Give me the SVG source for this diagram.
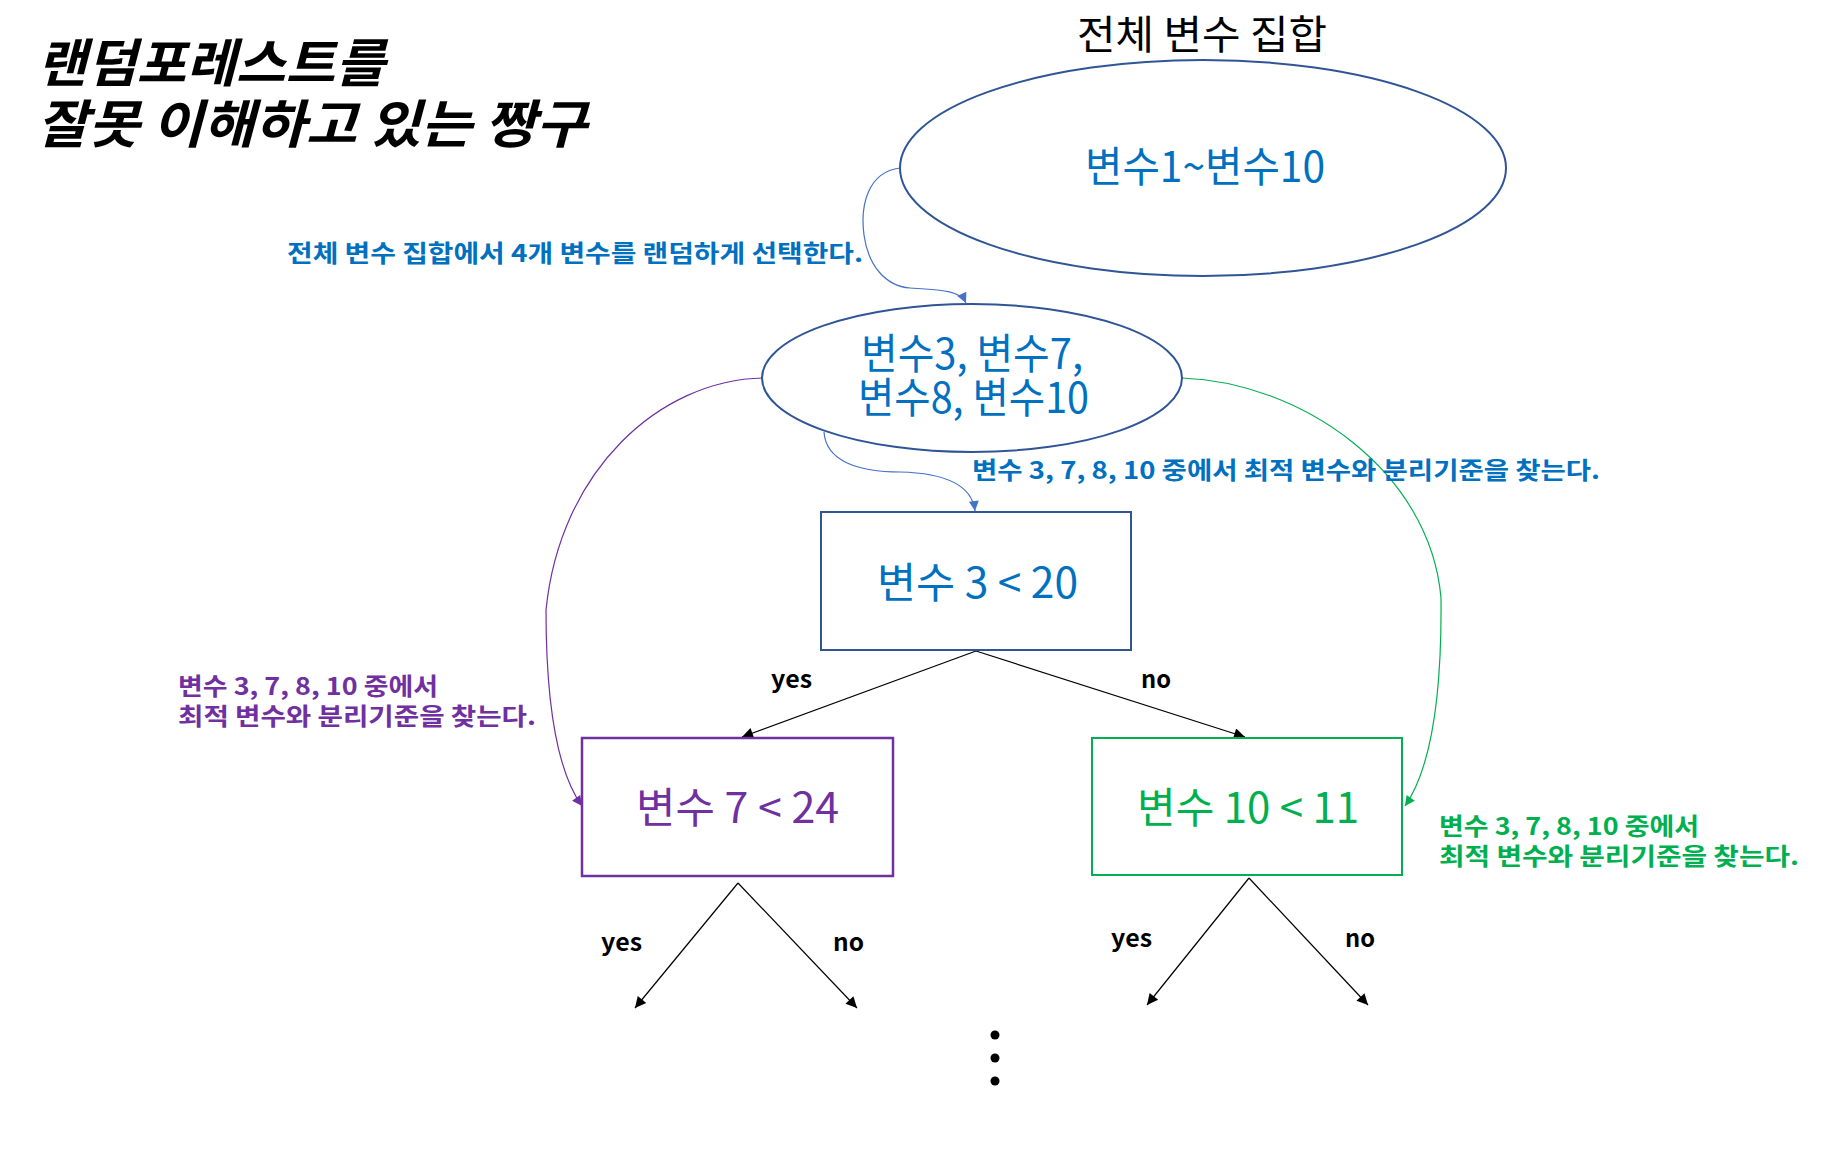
<svg xmlns="http://www.w3.org/2000/svg" width="1840" height="1153" viewBox="0 0 1840 1153">
<style>
text{font-family:"Noto Sans CJK KR","Noto Sans",sans-serif}
.title{font-size:52px;font-weight:bold;font-style:italic;fill:#000}
.head{font-size:40px;fill:#000}
.big{font-size:42px}
.note{font-size:24px;font-weight:bold}
.lbl{font-size:24px;font-weight:bold;fill:#000}
.blue{fill:#0070C0}
.purple{fill:#7030A0}
.green{fill:#00B050}
.conn{fill:none;stroke-width:1.2}
</style>
<defs>
<marker id="ak" viewBox="0 0 10 10" refX="10" refY="5" markerWidth="15" markerHeight="11" markerUnits="userSpaceOnUse" orient="auto"><path d="M0,0 L10,5 L0,10 z" fill="#000"/></marker>
<marker id="ab" viewBox="0 0 10 10" refX="10" refY="5" markerWidth="13" markerHeight="10" markerUnits="userSpaceOnUse" orient="auto"><path d="M0,0 L10,5 L0,10 z" fill="#4472C4"/></marker>
<marker id="ap" viewBox="0 0 10 10" refX="10" refY="5" markerWidth="13" markerHeight="10" markerUnits="userSpaceOnUse" orient="auto"><path d="M0,0 L10,5 L0,10 z" fill="#7030A0"/></marker>
<marker id="ag" viewBox="0 0 10 10" refX="10" refY="5" markerWidth="13" markerHeight="10" markerUnits="userSpaceOnUse" orient="auto"><path d="M0,0 L10,5 L0,10 z" fill="#00B050"/></marker>
</defs>

<g id="title">
<text class="title"><tspan x="37" y="82" textLength="348" lengthAdjust="spacingAndGlyphs">랜덤포레스트를</tspan><tspan x="37" y="143" textLength="550" lengthAdjust="spacingAndGlyphs">잘못 이해하고 있는 짱구</tspan></text>
</g>

<g id="connectors">
<path class="conn" stroke="#4472C4" d="M900,168 C868,172 860,205 864,235 C868,265 885,286 910,288 C940,290 960,290 966,303" marker-end="url(#ab)"/>
<path class="conn" stroke="#4472C4" d="M824,432 C826,462 860,472 900,472 C945,473 972,485 975,511" marker-end="url(#ab)"/>
<path class="conn" stroke="#7030A0" d="M763,378 C660,380 560,470 546,610 C546,700 556,770 582,806" marker-end="url(#ap)"/>
<path class="conn" stroke="#00B050" d="M1182,378 C1300,382 1430,470 1441,598 C1442,700 1430,770 1405,806" marker-end="url(#ag)"/>
<line class="conn" stroke="#000" x1="976" y1="651" x2="742" y2="737" marker-end="url(#ak)"/>
<line class="conn" stroke="#000" x1="976" y1="651" x2="1245" y2="737" marker-end="url(#ak)"/>
<line class="conn" stroke="#000" x1="738" y1="883" x2="635" y2="1008" marker-end="url(#ak)"/>
<line class="conn" stroke="#000" x1="738" y1="883" x2="857" y2="1008" marker-end="url(#ak)"/>
<line class="conn" stroke="#000" x1="1249" y1="878" x2="1147" y2="1005" marker-end="url(#ak)"/>
<line class="conn" stroke="#000" x1="1249" y1="878" x2="1368" y2="1005" marker-end="url(#ak)"/>
</g>

<g id="all-vars">
<text class="head" x="1077" y="49" textLength="250" lengthAdjust="spacingAndGlyphs">전체 변수 집합</text>
<ellipse cx="1203" cy="168" rx="303" ry="108" fill="#fff" stroke="#2F5597" stroke-width="2"/>
<text class="big blue" x="1085" y="182" textLength="240" lengthAdjust="spacingAndGlyphs">변수1~변수10</text>
</g>

<g id="note-select">
<text class="note blue" x="287" y="262" textLength="576" lengthAdjust="spacingAndGlyphs">전체 변수 집합에서 4개 변수를 랜덤하게 선택한다.</text>
</g>

<g id="subset">
<ellipse cx="972" cy="378" rx="210" ry="74" fill="#fff" stroke="#2F5597" stroke-width="2"/>
<text class="big blue"><tspan x="861" y="369" textLength="222" lengthAdjust="spacingAndGlyphs">변수3, 변수7,</tspan><tspan x="858" y="413" textLength="231" lengthAdjust="spacingAndGlyphs">변수8, 변수10</tspan></text>
</g>

<g id="note-root">
<text class="note blue" x="972" y="479" textLength="628" lengthAdjust="spacingAndGlyphs">변수 3, 7, 8, 10 중에서 최적 변수와 분리기준을 찾는다.</text>
</g>

<g id="root-split">
<rect x="821" y="512" width="310" height="138" fill="#fff" stroke="#2F5597" stroke-width="2"/>
<text class="big blue" x="877" y="598" textLength="201" lengthAdjust="spacingAndGlyphs">변수 3 &lt; 20</text>
</g>

<g id="labels-root">
<text class="lbl" x="771" y="688" textLength="41" lengthAdjust="spacingAndGlyphs">yes</text>
<text class="lbl" x="1141" y="688" textLength="30" lengthAdjust="spacingAndGlyphs">no</text>
</g>

<g id="note-left">
<text class="note purple"><tspan x="178" y="695" textLength="260" lengthAdjust="spacingAndGlyphs">변수 3, 7, 8, 10 중에서</tspan><tspan x="178" y="725" textLength="358" lengthAdjust="spacingAndGlyphs">최적 변수와 분리기준을 찾는다.</tspan></text>
</g>

<g id="left-split">
<rect x="582" y="738" width="311" height="138" fill="#fff" stroke="#7030A0" stroke-width="2.5"/>
<text class="big purple" x="636" y="823" textLength="203" lengthAdjust="spacingAndGlyphs">변수 7 &lt; 24</text>
</g>

<g id="right-split">
<rect x="1092" y="738" width="310" height="137" fill="#fff" stroke="#00B050" stroke-width="2"/>
<text class="big green" x="1137" y="823" textLength="222" lengthAdjust="spacingAndGlyphs">변수 10 &lt; 11</text>
</g>

<g id="note-right">
<text class="note green"><tspan x="1439" y="835" textLength="260" lengthAdjust="spacingAndGlyphs">변수 3, 7, 8, 10 중에서</tspan><tspan x="1439" y="865" textLength="360" lengthAdjust="spacingAndGlyphs">최적 변수와 분리기준을 찾는다.</tspan></text>
</g>

<g id="labels-children">
<text class="lbl" x="601" y="951" textLength="41" lengthAdjust="spacingAndGlyphs">yes</text>
<text class="lbl" x="833" y="951" textLength="31" lengthAdjust="spacingAndGlyphs">no</text>
<text class="lbl" x="1111" y="947" textLength="41" lengthAdjust="spacingAndGlyphs">yes</text>
<text class="lbl" x="1345" y="947" textLength="30" lengthAdjust="spacingAndGlyphs">no</text>
</g>

<g id="ellipsis">
<circle cx="995" cy="1035" r="4.5" fill="#000"/>
<circle cx="995" cy="1058" r="4.5" fill="#000"/>
<circle cx="995" cy="1081" r="4.5" fill="#000"/>
</g>
</svg>
